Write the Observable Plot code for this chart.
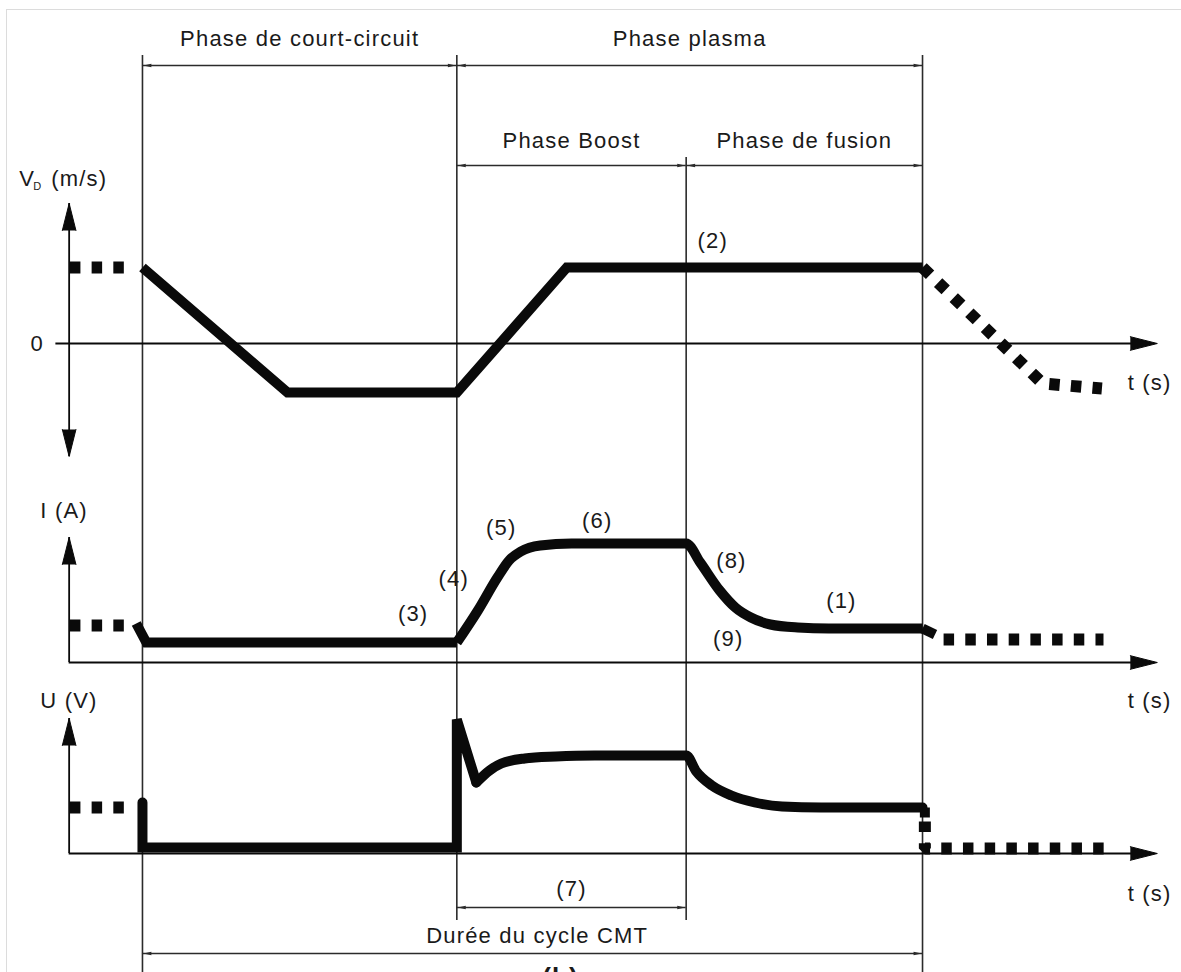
<!DOCTYPE html>
<html>
<head>
<meta charset="utf-8">
<script src="https://cdn.jsdelivr.net/npm/d3@7"></script>
<script src="https://cdn.jsdelivr.net/npm/@observablehq/plot@0.6"></script>
<style>
  html, body { margin: 0; padding: 0; background: #fff; }
  #wrap { position: relative; width: 1181px; height: 972px; overflow: hidden; }
  #frame { position: absolute; left: 6px; top: 9px; right: -4px; bottom: -4px;
           border-top: 1.5px solid #dcdcdc; border-left: 1.5px solid #dcdcdc; pointer-events: none; }
  #wrap svg text { letter-spacing: 1.2px; }
</style>
</head>
<body>
<div id="wrap"><div id="chart"></div><div id="frame"></div></div>
<script>
// ---------------- data (time in arbitrary units: CMT cycle = 0 .. 100) ----------------
const boundaries  = [0, 40.3, 69.7, 100];
const phaseLabels = ["Phase de court-circuit", "Phase plasma", "Phase Boost", "Phase de fusion"];
const phaseFrom   = [0, 40.3, 40.3, 69.7];
const phaseTo     = [40.3, 100, 69.7, 100];
const phaseRow    = [0, 0, 1, 1];
const cycleLabel  = "Durée du cycle CMT";
const boostLabel  = "(7)";
const timeLabel   = "t (s)";

// wire feed speed V_D (schematic units)
const vdBefore = [[-9.3, 0.76], [-1.2, 0.76]];
const vdCycle  = [[0, 0.76], [18.6, -0.49], [40.3, -0.49], [54.4, 0.76], [100, 0.76]];
const vdAfter  = [[100, 0.76], [115.4, -0.40], [123, -0.45]];
const vdNotes  = [{t: 73.1, v: 1.03, text: "(2)"}];

// current I (schematic units)
const iBefore = [[-9.3, 0.37], [-1.2, 0.37]];
const iLow    = [[-0.8, 0.39], [0.5, 0.20], [40.3, 0.20]];
const iPlasma = [[40.3, 0.20], [43, 0.52], [45.5, 0.85], [47, 1.02], [48.5, 1.11], [51, 1.17], [55, 1.19],
                 [69.7, 1.19], [71.5, 1.0], [74, 0.72], [76, 0.55], [78, 0.45], [80.5, 0.38], [84, 0.35],
                 [88, 0.34], [100, 0.34]];
const iHook   = [[100, 0.34], [101.6, 0.28]];
const iAfter  = [[102.7, 0.23], [123.2, 0.23]];
const iNotes  = [
  {t: 34.7, v: 0.49, text: "(3)"}, {t: 39.9, v: 0.84, text: "(4)"}, {t: 46.0, v: 1.35, text: "(5)"},
  {t: 58.3, v: 1.42, text: "(6)"}, {t: 75.5, v: 1.02, text: "(8)"}, {t: 75.1, v: 0.24, text: "(9)"},
  {t: 89.6, v: 0.62, text: "(1)"}
];

// voltage U (schematic units)
const uBefore = [[-9.3, 0.46], [-1.2, 0.46]];
const uJump   = [[0, 0.51], [0, 0.06], [40.3, 0.06], [40.3, 1.34], [42.8, 0.71]];
const uPlasma = [[42.8, 0.71], [44.5, 0.83], [46, 0.90], [49, 0.95], [53, 0.97], [58, 0.98], [69.7, 0.98],
                 [71, 0.82], [73, 0.68], [75.5, 0.58], [78.5, 0.51], [82, 0.47], [87, 0.46], [100, 0.46]];
const uEnd    = [[100.3, 0.46], [100.3, 0.36]];
const uAfter  = [[100.3, 0.32], [100.3, 0.05], [123.5, 0.05]];

// ---------------- layout (shared vertical scale, 1 unit = 100 px) ----------------
const panel = {vd: 6.29, i: 3.10, u: 1.19};          // baseline of each trace
const layout = {
  boundaryTop: [9.17, 9.17, 8.15, 9.17],
  boundaryBottom: [0, 0.52, 0.52, 0],
  phaseRuleY: [9.07, 8.07],
  phaseTextY: [9.34, 8.32],
  boostRuleY: 0.65, boostTextY: 0.84,
  cycleRuleY: 0.19, cycleTextY: 0.37,
  axisT: -9.4, arrowT: 130.1
};

const FONT = "'Liberation Sans', Arial, Helvetica, sans-serif";
const ink = "#0a0a0a", rule = "#2b2b2b", txt = "#1a1a1a";
const FS = 22;
const at = (pts, base) => pts.map(([t, v]) => ({t, y: base + v}));

const thick  = {x: "t", y: "y", stroke: ink, strokeWidth: 10, strokeLinecap: "butt", strokeLinejoin: "miter", strokeMiterlimit: 4};
const dotted = {x: "t", y: "y", stroke: ink, strokeWidth: 12, strokeDasharray: "10.5,11.2", strokeLinecap: "butt", strokeLinejoin: "miter"};

// dimension lines
const dims = [
  ...phaseLabels.map((_, i) => ({x1: phaseFrom[i], x2: phaseTo[i], y: layout.phaseRuleY[phaseRow[i]]})),
  {x1: boundaries[1], x2: boundaries[2], y: layout.boostRuleY},
  {x1: boundaries[0], x2: boundaries[3], y: layout.cycleRuleY}
];
const dimHeads = dims.flatMap(d => [{t: d.x1 + 0.12, y: d.y, angle: 270}, {t: d.x2 - 0.12, y: d.y, angle: 90}]);

// coordinate axes
const A = layout.axisT, E = layout.arrowT;
const axisV = [
  {t: A, y1: panel.vd - 1.13, y2: panel.vd + 1.40},
  {t: A, y1: panel.i, y2: panel.i + 1.25},
  {t: A, y1: panel.u, y2: panel.u + 1.35}
];
const axisH = [
  {y: panel.vd, x1: -11.1, x2: E - 1},
  {y: panel.i, x1: A, x2: E - 1},
  {y: panel.u, x1: A, x2: E - 1}
];
const axisHeads = [
  {t: A, y: panel.vd + 1.40, angle: 0}, {t: A, y: panel.vd - 1.13, angle: 180}, {t: E, y: panel.vd, angle: 90},
  {t: A, y: panel.i + 1.25, angle: 0}, {t: E, y: panel.i, angle: 90},
  {t: A, y: panel.u + 1.35, angle: 0}, {t: E, y: panel.u, angle: 90}
];

const axisTexts = [
  {t: -15.8, y: panel.vd + 1.65, text: "V", size: FS, anchor: "start"},
  {t: -14.0, y: panel.vd + 1.575, text: "D", size: 11, anchor: "start"},
  {t: -11.7, y: panel.vd + 1.65, text: "(m/s)", size: FS, anchor: "start"},
  {t: -13.5, y: panel.vd, text: "0", size: FS, anchor: "middle"},
  {t: -13.1, y: panel.i + 1.52, text: "I (A)", size: FS, anchor: "start"},
  {t: -13.1, y: panel.u + 1.53, text: "U (V)", size: FS, anchor: "start"},
  {t: 126.3, y: panel.vd - 0.39, text: timeLabel, size: FS, anchor: "start"},
  {t: 126.3, y: panel.i - 0.38, text: timeLabel, size: FS, anchor: "start"},
  {t: 126.3, y: panel.u - 0.40, text: timeLabel, size: FS, anchor: "start"}
];

const topTexts = [
  ...phaseLabels.map((text, i) => ({t: (phaseFrom[i] + phaseTo[i]) / 2, y: layout.phaseTextY[phaseRow[i]], text})),
  {t: (boundaries[1] + boundaries[2]) / 2, y: layout.boostTextY, text: boostLabel},
  {t: (boundaries[0] + boundaries[3]) / 2 + 0.6, y: layout.cycleTextY, text: cycleLabel}
];
const notes = [
  ...vdNotes.map(d => ({t: d.t, y: panel.vd + d.v, text: d.text})),
  ...iNotes.map(d => ({t: d.t, y: panel.i + d.v, text: d.text}))
];

const chart = Plot.plot({
  width: 1181,
  height: 972,
  margin: 0,
  style: {fontFamily: FONT, background: "transparent"},
  x: {domain: [-18.2, 133.2], axis: null},
  y: {domain: [0, 9.72], axis: null},
  marks: [
    // phase boundaries
    Plot.ruleX(boundaries.map((t, i) => ({t, y1: layout.boundaryBottom[i], y2: layout.boundaryTop[i]})),
      {x: "t", y1: "y1", y2: "y2", stroke: rule, strokeWidth: 1.6}),
    // dimension lines
    Plot.ruleY(dims, {x1: "x1", x2: "x2", y: "y", stroke: rule, strokeWidth: 1.4}),
    Plot.vector(dimHeads, {x: "t", y: "y", rotate: "angle", length: 8, r: 1.8, shape: "spike", anchor: "end", fill: rule, stroke: "none"}),
    // axes
    Plot.ruleX(axisV, {x: "t", y1: "y1", y2: "y2", stroke: ink, strokeWidth: 1.8}),
    Plot.ruleY(axisH, {x1: "x1", x2: "x2", y: "y", stroke: ink, strokeWidth: 1.8}),
    Plot.vector(axisHeads, {x: "t", y: "y", rotate: "angle", length: 27, r: 6.8, shape: "spike", anchor: "end", fill: ink, stroke: ink, strokeWidth: 1}),
    // V_D trace
    Plot.line(at(vdBefore, panel.vd), dotted),
    Plot.line(at(vdCycle, panel.vd), thick),
    Plot.line(at(vdAfter, panel.vd), dotted),
    // I trace
    Plot.line(at(iBefore, panel.i), dotted),
    Plot.line(at(iLow, panel.i), thick),
    Plot.line(at(iPlasma, panel.i), {...thick, curve: "monotone-x"}),
    Plot.line(at(iHook, panel.i), thick),
    Plot.line(at(iAfter, panel.i), dotted),
    // U trace
    Plot.line(at(uBefore, panel.u), dotted),
    Plot.line(at(uJump, panel.u), {...thick, strokeLinecap: "round"}),
    Plot.line(at(uPlasma, panel.u), {...thick, strokeLinecap: "round", curve: "monotone-x"}),
    Plot.line(at(uEnd, panel.u), thick),
    Plot.line(at(uAfter, panel.u), dotted),
    // texts
    Plot.text(topTexts, {x: "t", y: "y", text: "text", fontSize: FS, fill: txt}),
    Plot.text(notes, {x: "t", y: "y", text: "text", fontSize: FS, fill: txt}),
    Plot.text(axisTexts, {x: "t", y: "y", text: "text", fontSize: "size", textAnchor: "start", fill: txt,
      filter: d => d.anchor === "start"}),
    Plot.text(axisTexts, {x: "t", y: "y", text: "text", fontSize: "size", fill: txt,
      filter: d => d.anchor === "middle"}),
    Plot.text([{t: 53.6, y: 0.05, text: "(b)"}], {x: "t", y: "y", text: "text", fontSize: 26, fontWeight: "bold",
      lineAnchor: "top", fill: txt})
  ]
});
document.getElementById("chart").appendChild(chart);
</script>
</body>
</html>
